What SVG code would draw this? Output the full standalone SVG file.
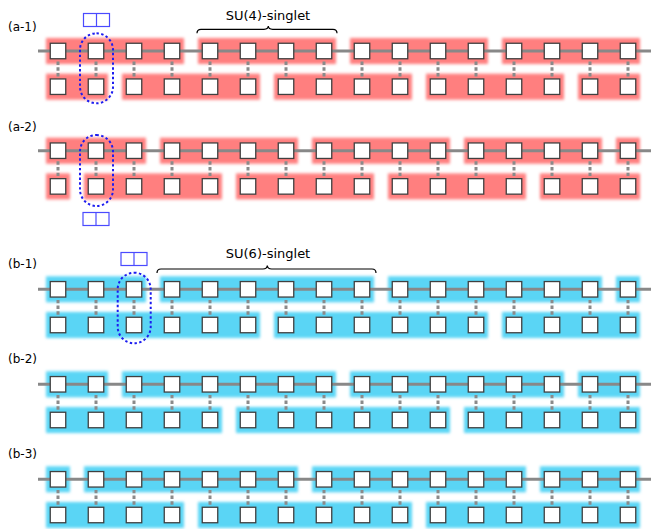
<svg xmlns="http://www.w3.org/2000/svg" xmlns:xlink="http://www.w3.org/1999/xlink" width="651" height="529" viewBox="0 0 651 529">
<style>
.lbl{font-family:"DejaVu Sans",Verdana,sans-serif;font-size:12px;fill:#000}
.su{font-family:"DejaVu Sans",Verdana,sans-serif;font-size:13px;fill:#000}
.red rect{fill:#ff7f7f}
.blue rect{fill:#5ad5f5}
.chain{stroke:#888;stroke-width:3}
.rung{stroke:#8a8a8a;stroke-width:3;stroke-dasharray:3.4 2.3}
.brace{fill:none;stroke:#000;stroke-width:1.2}
.loop{fill:none;stroke:#1c1cf0;stroke-width:2;stroke-dasharray:2.4 2.4}
.yt{fill:none;stroke:#4a4aff;stroke-width:1.2}
</style>
<defs>
<filter id="soft" x="-10%" y="-60%" width="120%" height="220%"><feGaussianBlur stdDeviation="1.8"/></filter>
<rect id="sq" x="-7.75" y="-7.75" width="15.5" height="15.5" fill="#fff" stroke="#404040" stroke-width="1.3"/>
<g id="row">
<use xlink:href="#sq" x="58"/><use xlink:href="#sq" x="96"/><use xlink:href="#sq" x="134"/><use xlink:href="#sq" x="172"/>
<use xlink:href="#sq" x="210"/><use xlink:href="#sq" x="248"/><use xlink:href="#sq" x="286"/><use xlink:href="#sq" x="324"/>
<use xlink:href="#sq" x="362"/><use xlink:href="#sq" x="400"/><use xlink:href="#sq" x="438"/><use xlink:href="#sq" x="476"/>
<use xlink:href="#sq" x="514"/><use xlink:href="#sq" x="552"/><use xlink:href="#sq" x="590"/><use xlink:href="#sq" x="628"/>
</g>
<g id="rungs">
<line class="rung" x1="58" y1="10.6" x2="58" y2="25.8"/><line class="rung" x1="96" y1="10.6" x2="96" y2="25.8"/>
<line class="rung" x1="134" y1="10.6" x2="134" y2="25.8"/><line class="rung" x1="172" y1="10.6" x2="172" y2="25.8"/>
<line class="rung" x1="210" y1="10.6" x2="210" y2="25.8"/><line class="rung" x1="248" y1="10.6" x2="248" y2="25.8"/>
<line class="rung" x1="286" y1="10.6" x2="286" y2="25.8"/><line class="rung" x1="324" y1="10.6" x2="324" y2="25.8"/>
<line class="rung" x1="362" y1="10.6" x2="362" y2="25.8"/><line class="rung" x1="400" y1="10.6" x2="400" y2="25.8"/>
<line class="rung" x1="438" y1="10.6" x2="438" y2="25.8"/><line class="rung" x1="476" y1="10.6" x2="476" y2="25.8"/>
<line class="rung" x1="514" y1="10.6" x2="514" y2="25.8"/><line class="rung" x1="552" y1="10.6" x2="552" y2="25.8"/>
<line class="rung" x1="590" y1="10.6" x2="590" y2="25.8"/><line class="rung" x1="628" y1="10.6" x2="628" y2="25.8"/>
</g>
</defs>
<rect width="651" height="529" fill="#fff"/>

<g id="blocks" filter="url(#soft)">
<g class="red">
<rect x="46" y="38" width="138" height="26"/><rect x="198" y="38" width="138" height="26"/><rect x="350" y="38" width="138" height="26"/><rect x="502" y="38" width="138" height="26"/>
<rect x="46" y="73.7" width="62" height="26"/><rect x="122" y="73.7" width="138" height="26"/><rect x="274" y="73.7" width="138" height="26"/><rect x="426" y="73.7" width="138" height="26"/><rect x="578" y="73.7" width="62" height="26"/>
<rect x="46" y="137.7" width="100" height="26"/><rect x="160" y="137.7" width="138" height="26"/><rect x="312" y="137.7" width="138" height="26"/><rect x="464" y="137.7" width="138" height="26"/><rect x="616" y="137.7" width="24" height="26"/>
<rect x="46" y="173.4" width="24" height="26"/><rect x="84" y="173.4" width="138" height="26"/><rect x="236" y="173.4" width="138" height="26"/><rect x="388" y="173.4" width="138" height="26"/><rect x="540" y="173.4" width="100" height="26"/>
</g>
<g class="blue">
<rect x="46" y="276.3" width="100" height="26"/><rect x="160" y="276.3" width="214" height="26"/><rect x="388" y="276.3" width="214" height="26"/><rect x="616" y="276.3" width="24" height="26"/>
<rect x="46" y="312" width="214" height="26"/><rect x="274" y="312" width="214" height="26"/><rect x="502" y="312" width="138" height="26"/>
<rect x="46" y="371.3" width="62" height="26"/><rect x="122" y="371.3" width="214" height="26"/><rect x="350" y="371.3" width="214" height="26"/><rect x="578" y="371.3" width="62" height="26"/>
<rect x="46" y="407" width="176" height="26"/><rect x="236" y="407" width="214" height="26"/><rect x="464" y="407" width="176" height="26"/>
<rect x="46" y="466.3" width="24" height="26"/><rect x="84" y="466.3" width="214" height="26"/><rect x="312" y="466.3" width="214" height="26"/><rect x="540" y="466.3" width="100" height="26"/>
<rect x="46" y="502" width="138" height="26"/><rect x="198" y="502" width="214" height="26"/><rect x="426" y="502" width="214" height="26"/>
</g>
</g>

<g id="connectors">
<line class="chain" x1="38" y1="51" x2="651" y2="51"/>
<line class="chain" x1="38" y1="150.7" x2="651" y2="150.7"/>
<line class="chain" x1="38" y1="289.3" x2="651" y2="289.3"/>
<line class="chain" x1="38" y1="384.3" x2="651" y2="384.3"/>
<line class="chain" x1="38" y1="479.3" x2="651" y2="479.3"/>
<use xlink:href="#rungs" y="51"/>
<use xlink:href="#rungs" y="150.7"/>
<use xlink:href="#rungs" y="289.3"/>
<use xlink:href="#rungs" y="384.3"/>
<use xlink:href="#rungs" y="479.3"/>
</g>

<g id="a1-top"><use xlink:href="#row" y="51"/></g>
<g id="a1-bottom"><use xlink:href="#row" y="86.7"/></g>
<g id="a2-top"><use xlink:href="#row" y="150.7"/></g>
<g id="a2-bottom"><use xlink:href="#row" y="186.4"/></g>
<g id="b1-top"><use xlink:href="#row" y="289.3"/></g>
<g id="b1-bottom"><use xlink:href="#row" y="325"/></g>
<g id="b2-top"><use xlink:href="#row" y="384.3"/></g>
<g id="b2-bottom"><use xlink:href="#row" y="420"/></g>
<g id="b3-top"><use xlink:href="#row" y="479.3"/></g>
<g id="b3-bottom"><use xlink:href="#row" y="515"/></g>

<g id="a1-loop"><rect class="loop" x="80" y="33.3" width="33" height="70" rx="16.5"/></g>
<g id="a2-loop"><rect class="loop" x="80" y="135" width="33" height="71" rx="16.5"/></g>
<g id="b1-loop"><rect class="loop" x="117.7" y="272.7" width="33" height="70.6" rx="16.5"/></g>

<g id="a1-young"><rect class="yt" x="83.5" y="13.5" width="26" height="13"/><line class="yt" x1="96.5" y1="13.5" x2="96.5" y2="26.5"/></g>
<g id="a2-young"><rect class="yt" x="83" y="212.5" width="26" height="13"/><line class="yt" x1="96" y1="212.5" x2="96" y2="225.5"/></g>
<g id="b1-young"><rect class="yt" x="121" y="252.5" width="26" height="13"/><line class="yt" x1="134" y1="252.5" x2="134" y2="265.5"/></g>

<g id="su4">
<path class="brace" d="M197,33.3 Q197,29.3 201,29.3 L264,29.3 Q268,29.3 268.3,26 Q268.6,29.3 272.6,29.3 L333,29.3 Q337,29.3 337,33.3"/>
<text class="su" x="268" y="20" text-anchor="middle">SU(4)-singlet</text>
</g>
<g id="su6">
<path class="brace" d="M157,273 Q157,269 161,269 L263,269 Q267,269 267.3,265.5 Q267.6,269 271.6,269 L372,269 Q376,269 376,273"/>
<text class="su" x="268" y="257.5" text-anchor="middle">SU(6)-singlet</text>
</g>

<g id="labels">
<text class="lbl" x="8" y="31">(a-1)</text>
<text class="lbl" x="8" y="131">(a-2)</text>
<text class="lbl" x="8" y="268">(b-1)</text>
<text class="lbl" x="8" y="363">(b-2)</text>
<text class="lbl" x="8" y="458">(b-3)</text>
</g>
</svg>
